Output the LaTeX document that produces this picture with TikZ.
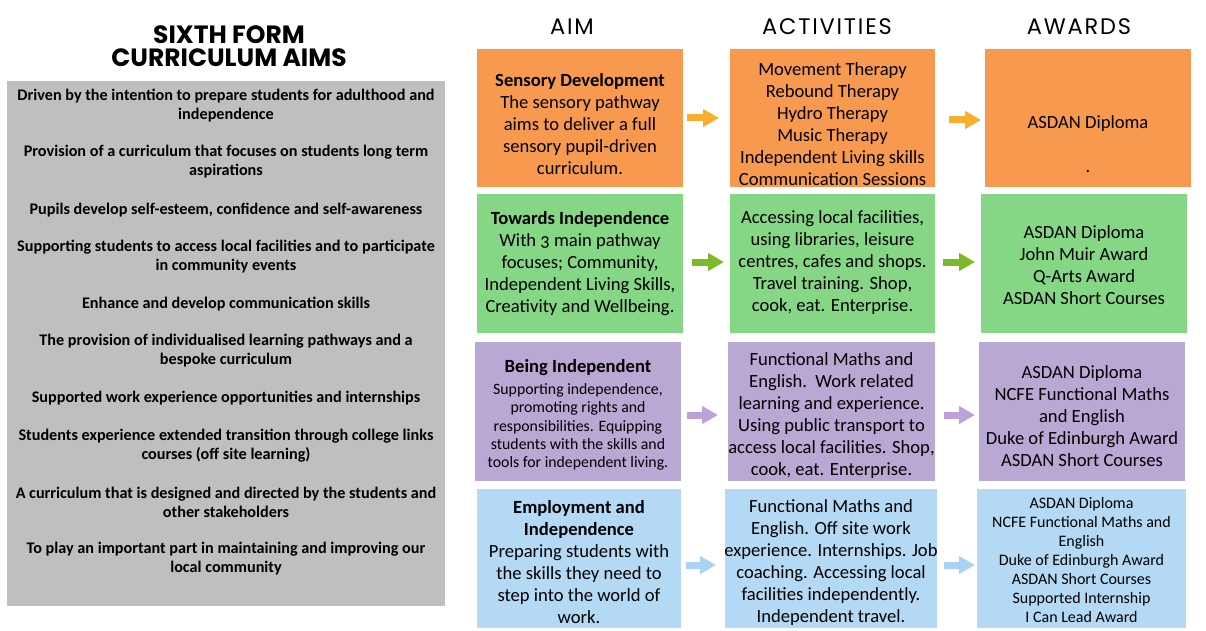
\documentclass[tikz,border=0pt]{standalone}
\usepackage{fontspec}
\setmainfont{Carlito}
\newfontfamily\titlefont{Poppins}
\usetikzlibrary{arrows.meta}
\definecolor{grayb}{HTML}{BFBFBF}
\definecolor{orb}{HTML}{F79A50}
\definecolor{ora}{HTML}{FBAE2D}
\definecolor{grb}{HTML}{85D685}
\definecolor{gra}{HTML}{7AB929}
\definecolor{pub}{HTML}{B9A8D4}
\definecolor{pua}{HTML}{BBA2DA}
\definecolor{blb}{HTML}{B4D9F4}
\definecolor{bla}{HTML}{A9D3F2}
\begin{document}
\begin{tikzpicture}[x=1pt,y=-1pt,
  box/.style={draw=none, inner sep=0pt, fill=#1},
  txt/.style={align=center, inner sep=0pt, font=\fontsize{18.6}{22}\selectfont},
  smalltxt/.style={align=center, inner sep=0pt, font=\fontsize{15.8}{18.4}\selectfont},
  lefttxt/.style={align=center, inner sep=0pt, font=\fontsize{16.2}{19}\selectfont\bfseries},
  hdr/.style={inner sep=0pt, font=\titlefont\addfontfeatures{LetterSpace=8}\fontsize{22.5}{24}\selectfont},
  arr/.style={line width=7pt, draw=#1, -{Triangle[length=16pt,width=17pt]}}]
\useasboundingbox (0,0) rectangle (1206,631);
\fill[white] (0,0) rectangle (1206,631);

% title
\node[inner sep=0pt, align=center, font=\titlefont\bfseries\fontsize{25}{23.5}\selectfont] (title) at (229,46) {SIXTH FORM\\CURRICULUM AIMS};

% left box
\node[box=grayb, minimum width=438pt, minimum height=525pt] (left) at (226,343.5) {};
\node[lefttxt] (l1) at (226,106) {Driven by the intention to prepare students for adulthood and\\independence};
\node[lefttxt] (l2) at (226,162) {Provision of a curriculum that focuses on students long term\\aspirations};
\node[lefttxt] (l3) at (226,210) {Pupils develop self-esteem, confidence and self-awareness};
\node[lefttxt] (l4) at (226,256.5) {Supporting students to access local facilities and to participate\\in community events};
\node[lefttxt] (l5) at (226,304) {Enhance and develop communication skills};
\node[lefttxt] (l6) at (226,351) {The provision of individualised learning pathways and a\\bespoke curriculum};
\node[lefttxt] (l7) at (226,398) {Supported work experience opportunities and internships};
\node[lefttxt] (l8) at (226,445.5) {Students experience extended transition through college links\\courses (off site learning)};
\node[lefttxt] (l9) at (226,502.5) {A curriculum that is designed and directed by the students and\\other stakeholders};
\node[lefttxt] (l10) at (226,558.5) {To play an important part in maintaining and improving our\\local community};

% headers
\node[hdr] (hAim) at (572,27) {AIM};
\node[hdr] (hAct) at (827,27) {ACTIVITIES};
\node[hdr] (hAwd) at (1079,27) {AWARDS};

% row 1
\node[box=orb, minimum width=206pt, minimum height=138pt] (a1) at (580,118) {};
\node[box=orb, minimum width=205pt, minimum height=138pt] (b1) at (832.5,118) {};
\node[box=orb, minimum width=206pt, minimum height=138pt] (c1) at (1088,118) {};
\node[txt] (ta1) at (580,124) {\textbf{Sensory Development}\\The sensory pathway\\aims to deliver a full\\sensory pupil-driven\\curriculum.};
\node[txt] (tb1) at (832.5,124) {Movement Therapy\\Rebound Therapy\\Hydro Therapy\\Music Therapy\\Independent Living skills\\Communication Sessions};
\node[txt] (tc1) at (1088,144) {ASDAN Diploma\\\mbox{}\\.};
\coordinate (p1s) at (687,118); \coordinate (p1e) at (719,118);
\coordinate (q1s) at (949,120); \coordinate (q1e) at (981,120);
\draw[arr=ora] (p1s) -- (p1e);
\draw[arr=ora] (q1s) -- (q1e);

% row 2
\node[box=grb, minimum width=206pt, minimum height=139pt] (a2) at (580,263.5) {};
\node[box=grb, minimum width=205pt, minimum height=139pt] (b2) at (832.5,263.5) {};
\node[box=grb, minimum width=206pt, minimum height=139pt] (c2) at (1084,263.5) {};
\node[txt] (ta2) at (580,264) {\textbf{Towards Independence}\\With {\addfontfeatures{Numbers=OldStyle}3} main pathway\\focuses; Community,\\Independent Living Skills,\\Creativity and Wellbeing.};
\node[txt] (tb2) at (832.5,263) {Accessing local facilities,\\using libraries, leisure\\centres, cafes and shops.\\Travel training. Shop,\\cook, eat. Enterprise.};
\node[txt] (tc2) at (1084,265) {ASDAN Diploma\\John Muir Award\\Q-Arts Award\\ASDAN Short Courses};
\coordinate (p2s) at (692,262); \coordinate (p2e) at (724,262);
\coordinate (q2s) at (943,262); \coordinate (q2e) at (975,262);
\draw[arr=gra] (p2s) -- (p2e);
\draw[arr=gra] (q2s) -- (q2e);

% row 3
\node[box=pub, minimum width=206pt, minimum height=139pt] (a3) at (578,411.5) {};
\node[box=pub, minimum width=207pt, minimum height=139pt] (b3) at (831.5,411.5) {};
\node[box=pub, minimum width=206pt, minimum height=139pt] (c3) at (1082,411.5) {};
\node[txt] (ta3h) at (578,368) {\textbf{Being Independent}};
\node[smalltxt] (ta3) at (578,427) {Supporting independence,\\promoting rights and\\responsibilities. Equipping\\students with the skills and\\tools for independent living.};
\node[txt] (tb3) at (831.5,415.5) {Functional Maths and\\English.\ \ Work related\\learning and experience.\\Using public transport to\\access local facilities. Shop,\\cook, eat. Enterprise.};
\node[txt] (tc3) at (1082,416.5) {ASDAN Diploma\\NCFE Functional Maths\\and English\\Duke of Edinburgh Award\\ASDAN Short Courses};
\coordinate (p3s) at (687,415); \coordinate (p3e) at (718,415);
\coordinate (q3s) at (944,415); \coordinate (q3e) at (975,415);
\draw[arr=pua] (p3s) -- (p3e);
\draw[arr=pua] (q3s) -- (q3e);

% row 4
\node[box=blb, minimum width=204pt, minimum height=139pt] (a4) at (579,558.5) {};
\node[box=blb, minimum width=212pt, minimum height=139pt] (b4) at (831,558.5) {};
\node[box=blb, minimum width=209pt, minimum height=139pt] (c4) at (1081.5,558.5) {};
\node[txt] (ta4) at (579,562.5) {\textbf{Employment and}\\\textbf{Independence}\\Preparing students with\\the skills they need to\\step into the world of\\work.};
\node[txt] (tb4) at (831,562.5) {Functional Maths and\\English. Off site work\\experience. Internships. Job\\coaching. Accessing local\\facilities independently.\\Independent travel.};
\node[smalltxt, font=\fontsize{16}{19}\selectfont] (tc4) at (1081.5,560) {ASDAN Diploma\\NCFE Functional Maths and\\English\\Duke of Edinburgh Award\\ASDAN Short Courses\\Supported Internship\\I Can Lead Award};
\coordinate (p4s) at (686,565); \coordinate (p4e) at (716,565);
\coordinate (q4s) at (944,565); \coordinate (q4e) at (975,565);
\draw[arr=bla] (p4s) -- (p4e);
\draw[arr=bla] (q4s) -- (q4e);
\end{tikzpicture}
\end{document}
